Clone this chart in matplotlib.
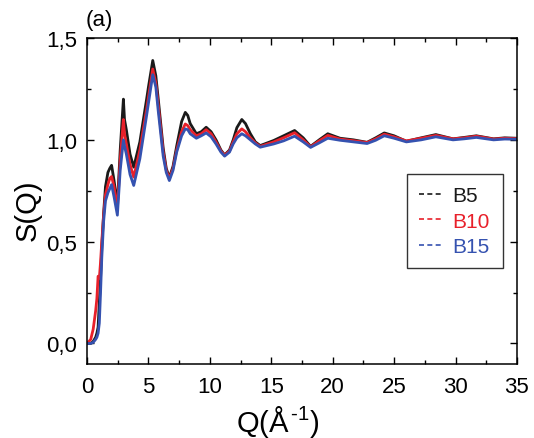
import matplotlib.pyplot as plt
from matplotlib.lines import Line2D
from matplotlib.ticker import FuncFormatter, MultipleLocator

plt.rcParams["font.family"] = ["Liberation Sans", "DejaVu Sans"]
plt.rcParams["mathtext.fontset"] = "custom"
plt.rcParams["mathtext.rm"] = "Liberation Sans"
plt.rcParams["mathtext.it"] = "Liberation Sans:italic"

# Q grid (1/Angstrom)
q = [0, 0.3, 0.5, 0.7, 0.8, 0.9, 1.0, 1.1, 1.2, 1.35,
     1.5, 1.7, 1.85, 2.0, 2.2, 2.47, 2.7, 2.96, 3.05, 3.2,
     3.5, 3.8, 4.3, 4.85, 5.0, 5.35, 5.6, 5.8, 6.2, 6.45,
     6.7, 7.0, 7.3, 7.7, 8.0, 8.2, 8.4, 8.9, 9.3, 9.7,
     10.1, 10.5, 10.9, 11.2, 11.6, 11.9, 12.2, 12.6, 12.9, 13.3,
     13.7, 14.1, 15.2, 16.0, 16.9, 17.6, 18.2, 18.9, 19.6, 20.6,
     21.7, 22.8, 23.5, 24.2, 25.0, 26.0, 27.2, 28.4, 29.8, 30.7,
     31.7, 33.1, 34.0, 35.0]

s_b5 = [0.0, 0.0, 0.01, 0.03, 0.05, 0.08, 0.2, 0.32, 0.47, 0.64,
        0.77, 0.84, 0.86, 0.875, 0.80, 0.68, 0.95, 1.20, 1.10, 1.05,
        0.93, 0.866, 0.99, 1.20, 1.26, 1.39, 1.315, 1.20, 0.96, 0.86,
        0.815, 0.87, 0.97, 1.09, 1.135, 1.12, 1.08, 1.03, 1.04, 1.062,
        1.04, 1.0, 0.95, 0.926, 0.95, 1.0, 1.06, 1.10, 1.08, 1.03,
        0.99, 0.972, 0.997, 1.02, 1.046, 1.01, 0.968, 1.0, 1.03, 1.008,
        1.0, 0.988, 1.01, 1.034, 1.02, 0.993, 1.01, 1.026, 1.005, 1.012,
        1.02, 1.005, 1.01, 1.008]

s_b10 = [0.0, 0.02, 0.07, 0.16, 0.22, 0.33, 0.32, 0.40, 0.50, 0.63,
         0.73, 0.78, 0.81, 0.82, 0.77, 0.66, 0.90, 1.10, 1.03, 0.98,
         0.88, 0.817, 0.95, 1.15, 1.21, 1.348, 1.28, 1.17, 0.94, 0.85,
         0.81, 0.86, 0.95, 1.04, 1.078, 1.07, 1.05, 1.02, 1.03, 1.05,
         1.03, 0.99, 0.945, 0.925, 0.945, 0.99, 1.03, 1.054, 1.04, 1.01,
         0.985, 0.968, 0.99, 1.01, 1.035, 1.0, 0.966, 0.995, 1.022, 1.004,
         0.996, 0.987, 1.005, 1.028, 1.015, 0.995, 1.008, 1.022, 1.005, 1.01,
         1.018, 1.004, 1.008, 1.006]

s_b15 = [0.0, 0.0, 0.005, 0.02, 0.03, 0.05, 0.10, 0.25, 0.42, 0.60,
         0.70, 0.74, 0.76, 0.78, 0.72, 0.63, 0.85, 1.00, 0.97, 0.93,
         0.83, 0.776, 0.907, 1.12, 1.18, 1.32, 1.26, 1.14, 0.92, 0.84,
         0.80, 0.85, 0.94, 1.02, 1.054, 1.05, 1.03, 1.008, 1.02, 1.034,
         1.015, 0.98, 0.94, 0.92, 0.94, 0.98, 1.01, 1.03, 1.02, 1.0,
         0.98, 0.964, 0.98, 0.995, 1.018, 0.99, 0.963, 0.985, 1.008, 0.998,
         0.99, 0.982, 0.998, 1.02, 1.008, 0.99, 1.0, 1.015, 1.0, 1.005,
         1.012, 1.0, 1.004, 1.003]

labels = ["B5", "B10", "B15"]
colors = ["#1a1a1a", "#e8202a", "#3552b0"]

fig = plt.figure(figsize=(5.34, 4.39), dpi=100)
ax = fig.add_axes([0.163, 0.169, 0.805, 0.742])

for s, c in zip([s_b5, s_b10, s_b15], colors):
    ax.plot(q, s, color=c, lw=2.0, solid_joinstyle="round")

ax.set_xlim(0, 35)
ax.set_ylim(-0.1, 1.5)
ax.xaxis.set_major_locator(MultipleLocator(5))
ax.xaxis.set_minor_locator(MultipleLocator(2.5))
ax.yaxis.set_major_locator(MultipleLocator(0.5))
ax.yaxis.set_minor_locator(MultipleLocator(0.25))
ax.yaxis.set_major_formatter(FuncFormatter(lambda v, p: f"{v:.1f}".replace(".", ",")))
ax.tick_params(which="both", direction="in", top=True, right=True, width=1)
ax.tick_params(which="major", length=5, labelsize=16)
ax.tick_params(which="minor", length=3)
ax.tick_params(axis="x", pad=9)
ax.tick_params(axis="y", pad=7)
for sp in ax.spines.values():
    sp.set_linewidth(1.1)

ax.set_xlabel(r"Q(Å$^{\,\text{-1}}$)", fontsize=21)
ax.xaxis.set_label_coords(0.444, -0.206)
ax.xaxis.label.set_va("baseline")
ax.set_ylabel("S(Q)", fontsize=21)
ax.yaxis.set_label_coords(-0.105, 0.475)

fig.text(0.161, 0.954, "(a)", fontsize=16, ha="left", va="center")

handles = [Line2D([], [], color=c, lw=1.2, ls=(0, (3, 2))) for c in colors]
leg = ax.legend(handles, labels, loc="upper left", bbox_to_anchor=(0.744, 0.583),
                borderaxespad=0, fontsize=15, frameon=True, fancybox=False,
                edgecolor="black", handlelength=1.2, handletextpad=0.4,
                labelspacing=0.3, borderpad=0.6)
leg.get_frame().set_linewidth(1.0)
for t, c in zip(leg.get_texts(), colors):
    t.set_color(c)

fig.savefig("out.png", dpi=100)
